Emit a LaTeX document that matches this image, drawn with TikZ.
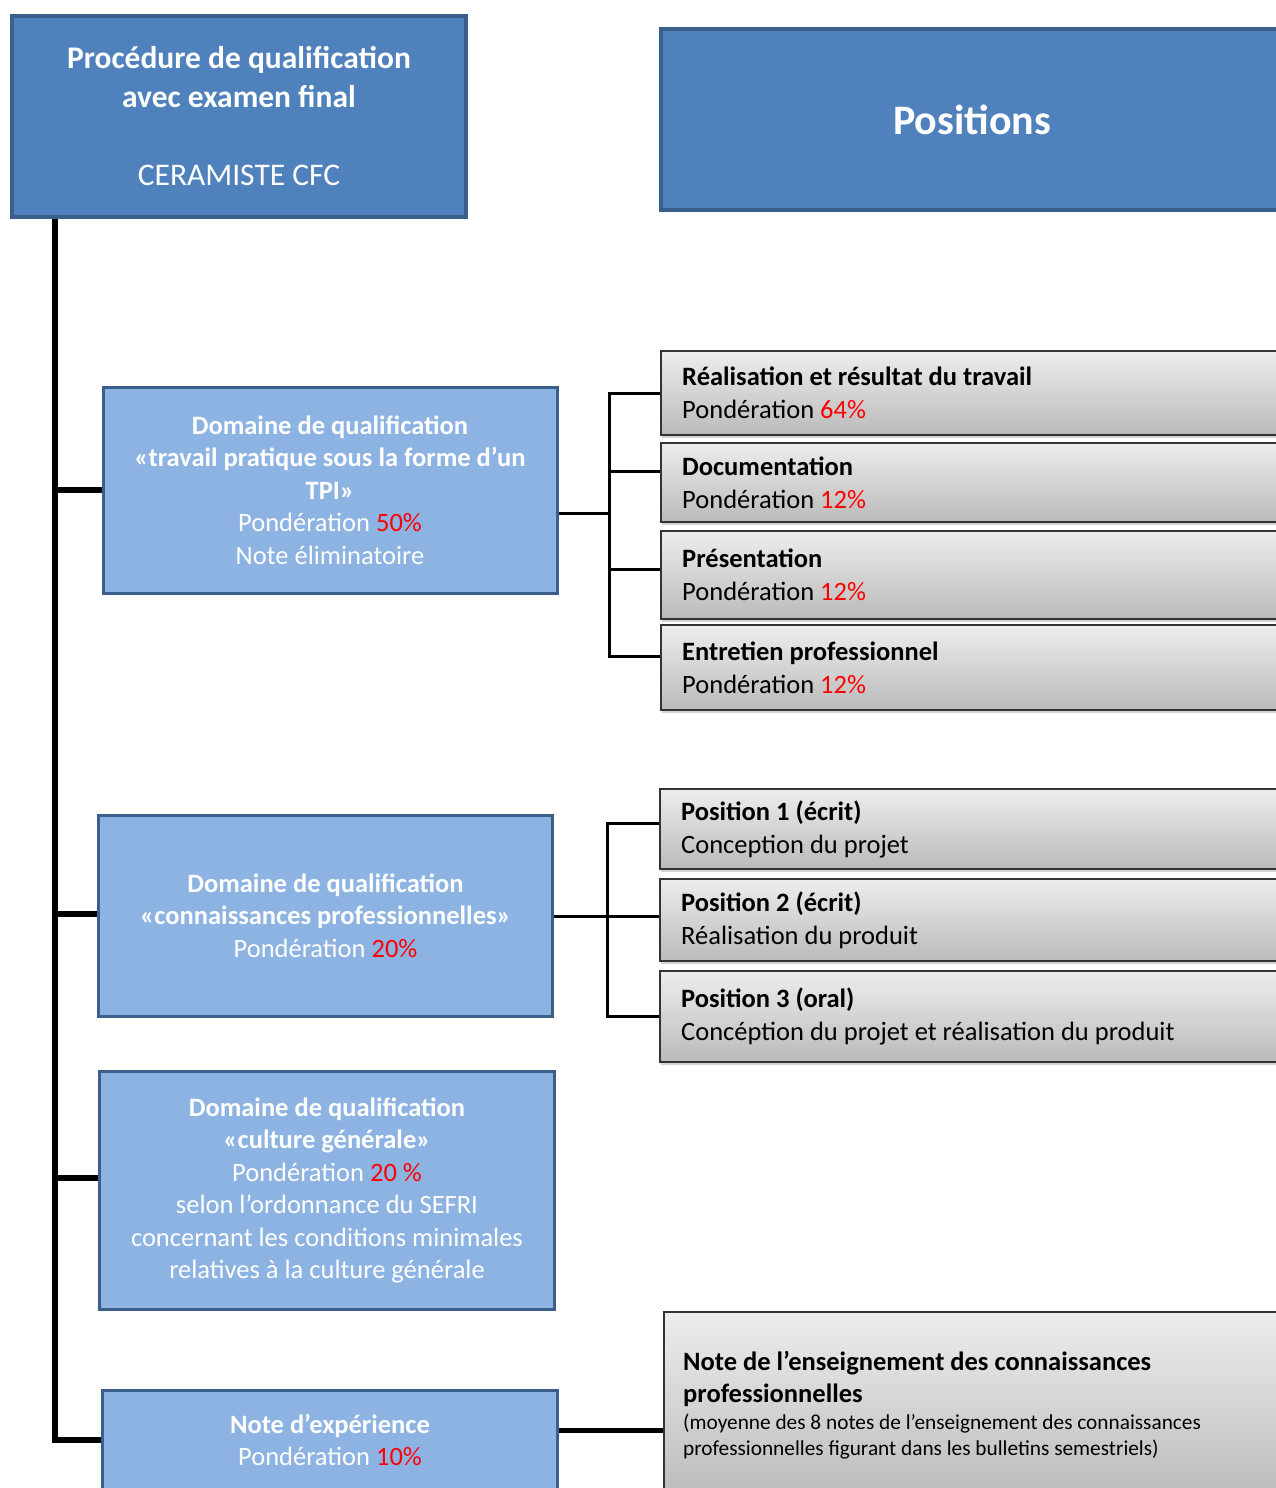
\documentclass[tikz,border=0pt]{standalone}
\usepackage{fontspec}
\setmainfont{Carlito}
\usetikzlibrary{shadows,calc}
\definecolor{darkblue}{HTML}{4F81BD}
\definecolor{bordblue}{HTML}{3A5F8B}
\definecolor{lightblue}{HTML}{8DB3E2}
\definecolor{pct}{HTML}{FF0000}
\begin{document}
\begin{tikzpicture}[x=1pt,y=-1pt,
  titlebox/.style={draw=bordblue, line width=3.5pt, fill=darkblue, text=white, inner sep=0pt, align=center},
  domainbox/.style={draw=bordblue, line width=3pt, fill=lightblue, text=white, inner sep=0pt, align=center, font=\fontsize{26.5}{32.5}\selectfont},
  graybox/.style={draw=black!80, line width=2pt, top color=black!7, bottom color=black!27, inner sep=0pt,
     drop shadow={shadow xshift=1pt, shadow yshift=-3pt, opacity=0.35}},
  graytext/.style={anchor=west, inner sep=0pt, align=left, font=\fontsize{26.5}{33}\selectfont},
  mainline/.style={line width=6pt},
  branch/.style={line width=3pt}]
\useasboundingbox (0,0) rectangle (1276,1488);
\clip (0,0) rectangle (1276,1488);
% title boxes
\node[titlebox, minimum width=454pt, minimum height=201pt, font=\fontsize{31.5}{39}\selectfont] (title) at (239,116.5)
  {\textbf{Procédure de qualification}\\\textbf{avec examen final}\\[39pt]CERAMISTE CFC};
\node[titlebox, minimum width=622pt, minimum height=181pt, font=\bfseries\fontsize{42}{48}\selectfont] (pos) at (972,119.5) {Positions};
% domain boxes
\node[domainbox, minimum width=454pt, minimum height=206pt] (d1) at (330,490)
  {\textbf{Domaine de qualification}\\\textbf{«travail pratique sous la forme d’un}\\\textbf{TPI»}\\Pondération \textcolor{pct}{50\%}\\Note éliminatoire};
\node[domainbox, minimum width=454pt, minimum height=201pt] (d2) at (325.5,915.5)
  {\textbf{Domaine de qualification}\\\textbf{«connaissances professionnelles»}\\Pondération \textcolor{pct}{20\%}};
\node[domainbox, minimum width=455pt, minimum height=238pt] (d3) at (327,1190.5)
  {\textbf{Domaine de qualification}\\\textbf{«culture générale»}\\Pondération \textcolor{pct}{20 \%}\\selon l’ordonnance du SEFRI\\concernant les conditions minimales\\relatives à la culture générale};
\node[domainbox, minimum width=455pt, minimum height=100pt] (d4) at (330,1440)
  {\textbf{Note d’expérience}\\Pondération \textcolor{pct}{10\%}};
% gray boxes group 1
\node[graybox, minimum width=630pt, minimum height=84pt] (g1) at (976,393) {};
\node[graytext] (g1t) at ($(g1.west)+(22,0)$) {\textbf{Réalisation et résultat du travail}\\Pondération \textcolor{pct}{64\%}};
\node[graybox, minimum width=630pt, minimum height=79pt] (g2) at (976,482.5) {};
\node[graytext] (g2t) at ($(g2.west)+(22,0)$) {\textbf{Documentation}\\Pondération \textcolor{pct}{12\%}};
\node[graybox, minimum width=630pt, minimum height=88pt] (g3) at (976,575) {};
\node[graytext] (g3t) at ($(g3.west)+(22,0)$) {\textbf{Présentation}\\Pondération \textcolor{pct}{12\%}};
\node[graybox, minimum width=630pt, minimum height=85pt] (g4) at (976,667.5) {};
\node[graytext] (g4t) at ($(g4.west)+(22,0)$) {\textbf{Entretien professionnel}\\Pondération \textcolor{pct}{12\%}};
% gray boxes group 2
\node[graybox, minimum width=630pt, minimum height=80pt] (p1) at (975,829) {};
\node[graytext] (p1t) at ($(p1.west)+(22,0)$) {\textbf{Position 1 (écrit)}\\Conception du projet};
\node[graybox, minimum width=630pt, minimum height=82pt] (p2) at (975,920) {};
\node[graytext] (p2t) at ($(p2.west)+(22,0)$) {\textbf{Position 2 (écrit)}\\Réalisation du produit};
\node[graybox, minimum width=630pt, minimum height=91pt] (p3) at (975,1016.5) {};
\node[graytext] (p3t) at ($(p3.west)+(22,0)$) {\textbf{Position 3 (oral)}\\Concéption du projet et réalisation du produit};
% bottom gray box
\node[graybox, minimum width=630pt, minimum height=190pt] (nb) at (979,1407) {};
\node[anchor=base west, inner sep=0pt, align=left, font=\bfseries\fontsize{26.5}{32}\selectfont] (nbt) at ($(nb.west)+(20,-5)$)
  {Note de l’enseignement des connaissances\\professionnelles};
\node[anchor=base west, inner sep=0pt, align=left, font=\fontsize{21.3}{26}\selectfont] (nbs) at ($(nb.west)+(20,48)$)
  {(moyenne des 8 notes de l’enseignement des connaissances\\professionnelles figurant dans les bulletins semestriels)};
% connectors
\coordinate (tk) at (55,1440);
\draw[mainline] (title.south -| tk) -- (tk) -- (d4.west);
\draw[mainline] (d1.west -| tk) -- (d1.west);
\draw[mainline] ($(d2.west -| tk)+(0,-2)$) -- ($(d2.west)+(0,-2)$);
\draw[mainline] ($(d3.west -| tk)+(0,-13)$) -- ($(d3.west)+(0,-13)$);
\coordinate (bus1) at (609,513);
\draw[branch] (d1.east |- bus1) -- (bus1);
\draw[branch] (g1.west) -- (g1.west -| bus1) -- ($(g4.west -| bus1)+(0,-11.5)$) -- ($(g4.west)+(0,-11.5)$);
\draw[branch] ($(g2.west -| bus1)+(0,-11.5)$) -- ($(g2.west)+(0,-11.5)$);
\draw[branch] ($(g3.west -| bus1)+(0,-6)$) -- ($(g3.west)+(0,-6)$);
\coordinate (bus2) at (607,916);
\draw[branch] (d2.east |- bus2) -- (p2.west |- bus2);
\draw[branch] ($(p1.west)+(0,-6)$) -| (bus2) |- (p3.west);
\draw[line width=5pt] ($(d4.east)+(0,-10)$) -- ($(nb.west |- d4.east)+(0,-10)$);
\end{tikzpicture}
\end{document}
